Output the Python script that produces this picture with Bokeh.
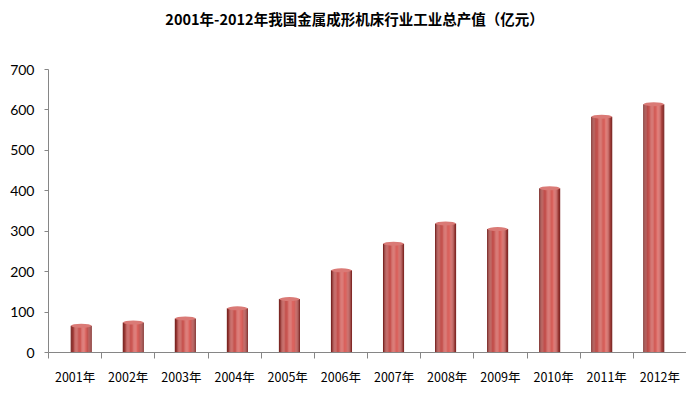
import math
from bokeh.plotting import figure
from bokeh.models import FixedTicker, Range1d, Label, LinearAxis
from bokeh.embed import file_html
from bokeh.resources import INLINE

years = ["2001年", "2002年", "2003年", "2004年", "2005年", "2006年",
         "2007年", "2008年", "2009年", "2010年", "2011年", "2012年"]
values = [65, 73, 83, 108, 131, 202, 268, 318, 304, 405, 582, 613]
y_ticks = [0, 100, 200, 300, 400, 500, 600, 700]
title_text = "2001年-2012年我国金属成形机床行业工业总产值（亿元）"

n_cat = len(years)
xs = [i + 0.5 for i in range(n_cat)]          # category centres (labels)
# 3-D perspective: the bars stand a little behind the front axis plane
depth_scale = 0.979
bar_xs = [n_cat / 2 + (x - n_cat / 2) * depth_scale for x in xs]

# frame spans 5px..352px from the top; axis range 0..700 occupies 283px
top_px, bottom_px, axis_px = 5, 352, 283
frame_h = bottom_px - top_px
axis_end = y_ticks[-1] * frame_h / axis_px
floor_lift = 0.5 * y_ticks[-1] / axis_px     # bars' floor sits slightly above the axis line

p = figure(width=686, height=397, output_backend="svg", toolbar_location=None,
           x_range=Range1d(0, n_cat),
           y_range=Range1d(-floor_lift, axis_end - floor_lift),
           y_axis_location=None,
           min_border_left=48, min_border_right=0, min_border_top=top_px,
           min_border_bottom=397 - bottom_px)
p.extra_y_ranges = {"axis": Range1d(0, axis_end)}
p.outline_line_color = None
p.xgrid.grid_line_color = None
p.ygrid.grid_line_color = None
p.background_fill_color = "white"

p.add_layout(Label(x=306, y=frame_h - 13, x_units="screen", y_units="screen",
                   text=title_text, text_align="center", text_baseline="middle",
                   text_font="Noto Sans CJK SC", text_font_size="14.5px",
                   text_font_style="bold", text_color="#000000"))

# cylinder shading: slices across the bar width
bw = 0.395
n = 18
def shade(t):
    dark_l = (112, 32, 30)
    mid = (196, 82, 78)
    hi = (220, 100, 95)
    dark_r = (118, 34, 32)
    if t < 0.3:
        f = math.sin((t / 0.3) * math.pi / 2)
        c = [dark_l[k] + (mid[k] - dark_l[k]) * f for k in range(3)]
    elif t < 0.68:
        f = (t - 0.3) / 0.38
        c = [mid[k] + (hi[k] - mid[k]) * f for k in range(3)]
    else:
        f = ((t - 0.68) / 0.32) ** 1.5
        c = [hi[k] + (dark_r[k] - hi[k]) * f for k in range(3)]
    return "#%02x%02x%02x" % tuple(int(v) for v in c)

sw = bw / n
for j in range(n):
    off = -bw / 2 + sw * (j + 0.5)
    col = shade((j + 0.5) / n)
    p.vbar(x=[x + off for x in bar_xs], top=values, bottom=0, width=sw * 1.08,
           fill_color=col, line_color=None)

# top caps
p.ellipse(x=bar_xs, y=values, width=bw * 0.97, height=4, height_units="screen",
          fill_color="#da7a76", line_color=None)

# y axis on the front plane
yax = LinearAxis(y_range_name="axis", ticker=FixedTicker(ticks=y_ticks),
                 bounds=(y_ticks[0], y_ticks[-1]))
yax.axis_line_color = "#868686"
yax.major_tick_line_color = "#868686"
yax.major_tick_out = 4
yax.major_tick_in = 0
yax.minor_tick_line_color = None
yax.major_label_text_font = "Lato"
yax.major_label_text_font_size = "14px"
yax.major_label_text_color = "#000000"
yax.major_label_standoff = 10
p.add_layout(yax, "left")

p.xaxis.ticker = FixedTicker(ticks=xs, minor_ticks=list(range(n_cat + 1)))
p.xaxis.major_label_overrides = {x: y for x, y in zip(xs, years)}
p.xaxis.axis_line_color = "#868686"
p.xaxis.major_tick_line_color = None
p.xaxis.minor_tick_line_color = "#868686"
p.xaxis.minor_tick_out = 6
p.xaxis.minor_tick_in = 0
p.xaxis.major_label_text_font = "Noto Sans CJK SC"
p.xaxis.major_label_text_font_size = "12.5px"
p.xaxis.major_label_text_color = "#000000"
p.xaxis.major_label_standoff = 8

open("out.html", "w").write(file_html(p, INLINE))
